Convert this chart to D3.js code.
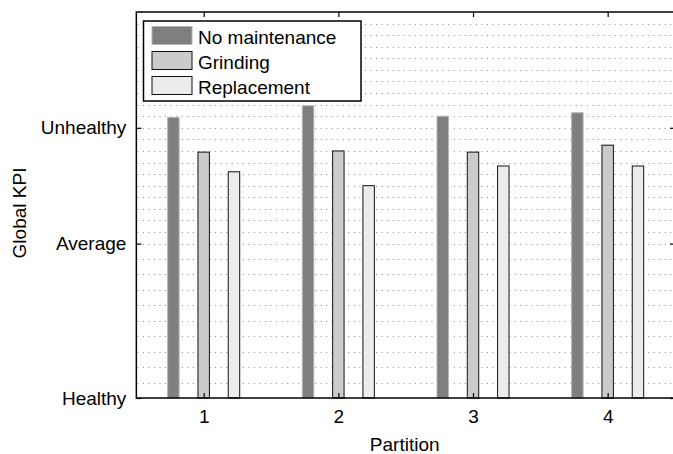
<!DOCTYPE html>
<html>
<head>
<meta charset="utf-8">
<script src="https://cdn.jsdelivr.net/npm/d3@7"></script>
<style>
  html, body { margin: 0; padding: 0; background: #fff; }
  svg { display: block; font-family: "Liberation Sans", Arial, Helvetica, sans-serif; }
</style>
</head>
<body>
<svg id="chart" width="673" height="454"></svg>
<script>
// Partitions along the track
const categories = [1, 2, 3, 4];
// Strategy names, in legend order
const seriesNames = ["No maintenance", "Grinding", "Replacement"];
// Global KPI per partition (0 = Healthy, 1 = Average, 2 = Unhealthy)
const noMaintenance = [2.09, 2.19, 2.10, 2.13];
const grinding      = [1.79, 1.80, 1.79, 1.85];
const replacement   = [1.62, 1.50, 1.67, 1.67];
// Qualitative tick labels on the KPI axis
const yTickValues = [0, 1, 2];
const yTickLabels = ["Healthy", "Average", "Unhealthy"];

const series = [noMaintenance, grinding, replacement];
const fills   = ["#7f7f7f", "#cbcbcb", "#ececec"];
const strokes = ["#b4b4b4", "#111", "#111"];

const svg = d3.select("#chart");
const plotLeft = 136.35, plotRight = 675, plotTop = 12, plotBottom = 398;
const plotH = plotBottom - plotTop;

// KPI scale: the bands between qualitative levels are not equal in height
const y = d3.scaleLinear()
  .domain([0, 1, 2, 3])
  .range([plotBottom, plotBottom - 0.4 * plotH, plotBottom - 0.7 * plotH, plotTop]);
const x = d3.scaleLinear().domain([0.5, 4.5]).range([plotLeft, plotRight]);

const unit = x(1) - x(0);
const offsets = [-0.225, 0, 0.225];
const barW = 0.085 * unit;

// dotted minor grid, every tenth of a level
const gridVals = d3.range(1, 30).map(i => i / 10);
svg.append("g").selectAll("line").data(gridVals).join("line")
  .attr("x1", plotLeft + 1).attr("x2", plotRight)
  .attr("y1", d => Math.round(y(d)) + 0.5).attr("y2", d => Math.round(y(d)) + 0.5)
  .attr("stroke", "#8a8a8a").attr("stroke-width", 1)
  .attr("stroke-dasharray", "1,4.55");

// bars
series.forEach((vals, si) => {
  svg.append("g").selectAll("rect").data(vals).join("rect")
    .attr("x", (d, i) => x(categories[i] + offsets[si]) - barW / 2)
    .attr("width", barW)
    .attr("y", d => y(d))
    .attr("height", d => y(0) - y(d))
    .attr("fill", fills[si])
    .attr("stroke", strokes[si])
    .attr("stroke-width", 1);
});

// axes box and ticks
svg.append("rect")
  .attr("x", plotLeft).attr("y", plotTop)
  .attr("width", plotRight - plotLeft).attr("height", plotH)
  .attr("fill", "none").attr("stroke", "#000").attr("stroke-width", 1.5);

const fontFam = "Liberation Sans, Arial, sans-serif";

const gxb = svg.append("g").attr("transform", `translate(0,${plotBottom})`)
  .call(d3.axisBottom(x).tickValues(categories).tickFormat(d3.format("d"))
    .tickSizeInner(-5).tickSizeOuter(0).tickPadding(12));
gxb.select(".domain").remove();
gxb.selectAll("line").attr("stroke", "#000").attr("stroke-width", 1.2);
gxb.selectAll("text").attr("font-size", 19).attr("fill", "#000").attr("font-family", fontFam);

const gxt = svg.append("g").attr("transform", `translate(0,${plotTop})`)
  .call(d3.axisTop(x).tickValues(categories).tickSizeInner(-5).tickSizeOuter(0).tickFormat(""));
gxt.select(".domain").remove();
gxt.selectAll("line").attr("stroke", "#000").attr("stroke-width", 1.2);

const gyl = svg.append("g").attr("transform", `translate(${plotLeft},0)`)
  .call(d3.axisLeft(y).tickValues(yTickValues)
    .tickFormat((d, i) => yTickLabels[i]).tickSizeInner(-5).tickSizeOuter(0).tickPadding(10));
gyl.select(".domain").remove();
gyl.selectAll("line").attr("stroke", "#000").attr("stroke-width", 1.2);
gyl.selectAll("text").attr("font-size", 19).attr("fill", "#000").attr("font-family", fontFam);

const gyr = svg.append("g").attr("transform", `translate(${plotRight},0)`)
  .call(d3.axisRight(y).tickValues(yTickValues).tickSizeInner(-5).tickSizeOuter(0).tickFormat(""));
gyr.select(".domain").remove();
gyr.selectAll("line").attr("stroke", "#000").attr("stroke-width", 1.2);

// axis titles
svg.append("text")
  .attr("x", (plotLeft + plotRight) / 2 - 1).attr("y", 451)
  .attr("text-anchor", "middle").attr("font-size", 19).attr("fill", "#000")
  .text("Partition");
svg.append("text")
  .attr("transform", "translate(26,213) rotate(-90)")
  .attr("text-anchor", "middle").attr("font-size", 19).attr("fill", "#000")
  .text("Global KPI");

// legend
const lg = svg.append("g");
lg.append("rect")
  .attr("x", 143.5).attr("y", 21).attr("width", 217.5).attr("height", 80)
  .attr("fill", "#fff").attr("stroke", "#000").attr("stroke-width", 1.5);
seriesNames.forEach((name, i) => {
  const ry = 26.5 + i * 25;
  lg.append("rect")
    .attr("x", 152).attr("y", ry).attr("width", 40).attr("height", 18)
    .attr("fill", fills[i]).attr("stroke", strokes[i]).attr("stroke-width", 1);
  lg.append("text")
    .attr("x", 198).attr("y", ry + 17)
    .attr("font-size", 19).attr("fill", "#000")
    .text(name);
});
</script>
</body>
</html>
